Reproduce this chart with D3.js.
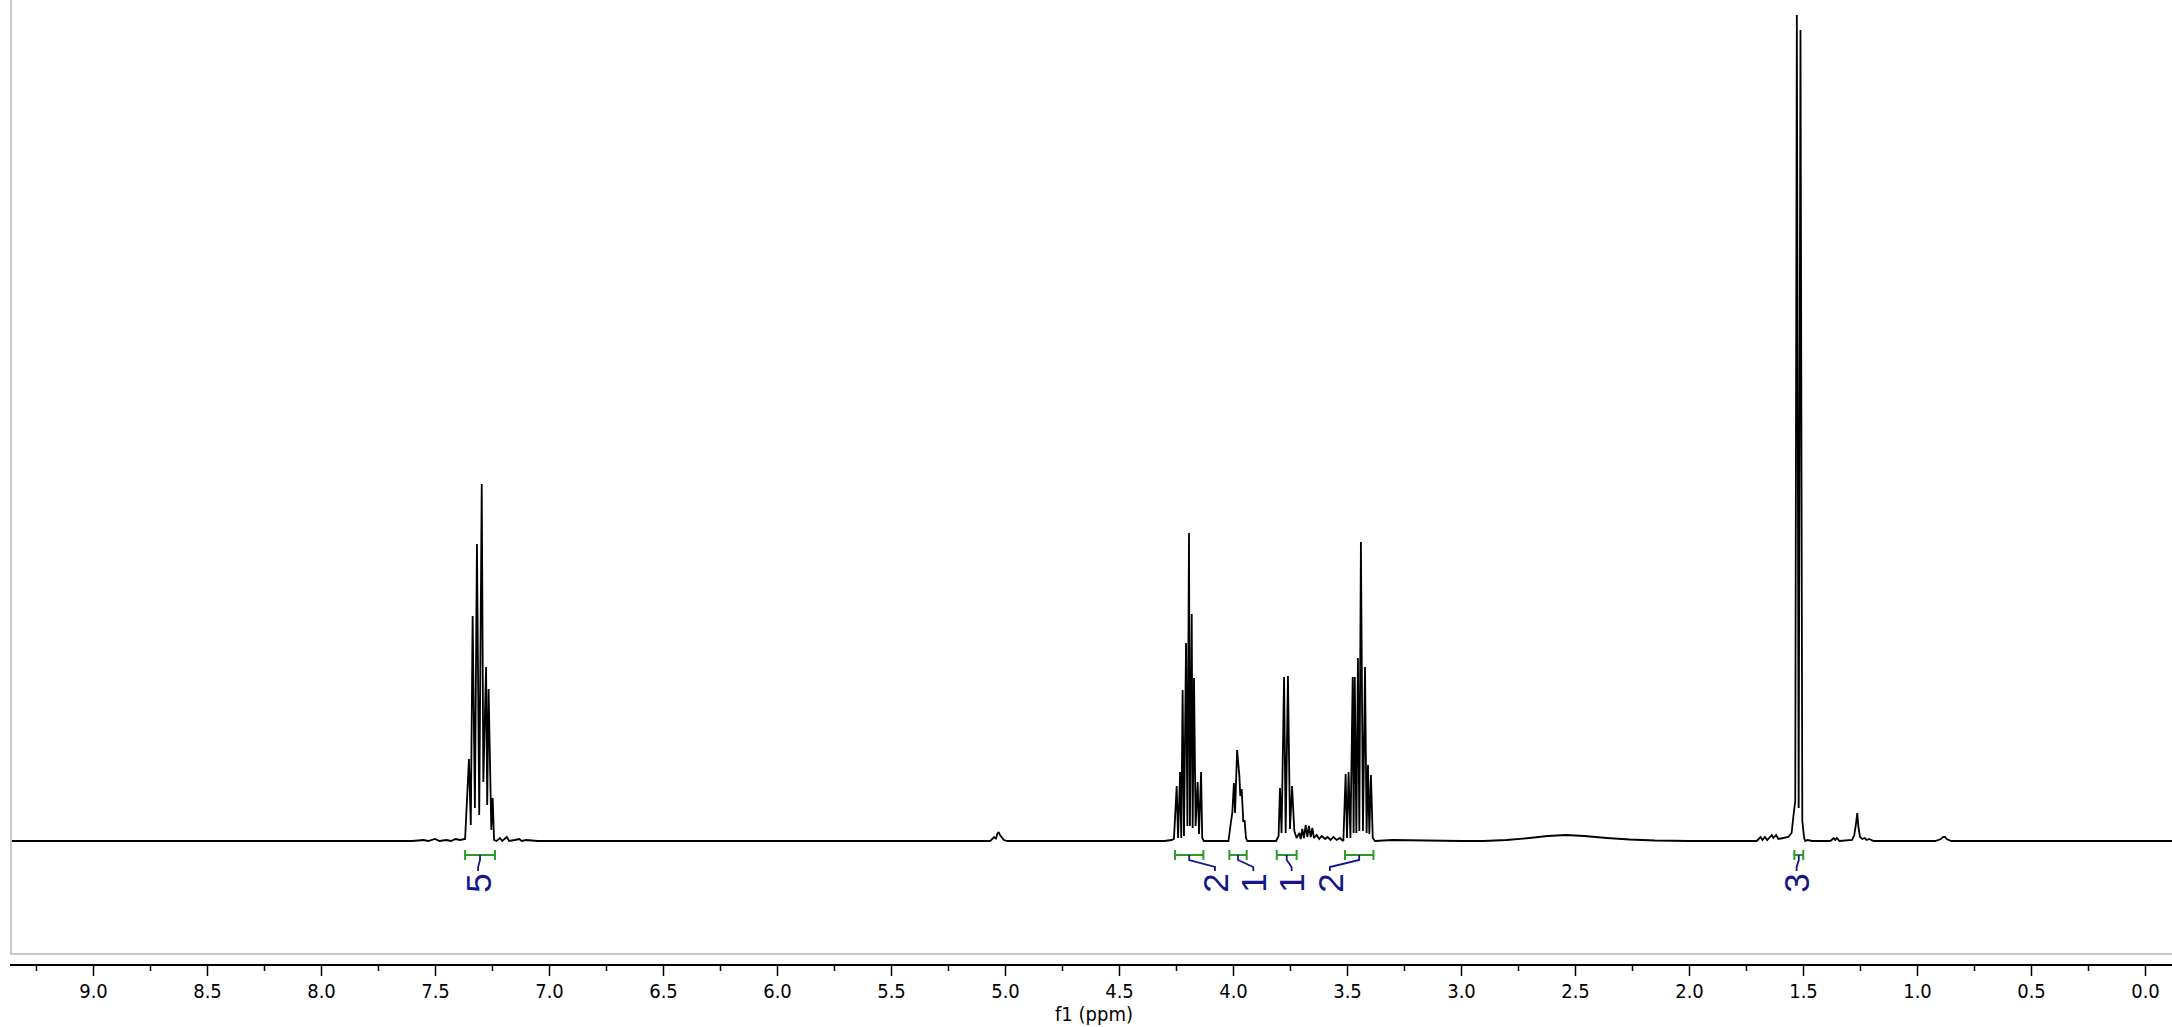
<!DOCTYPE html>
<html>
<head>
<meta charset="utf-8">
<script src="https://cdn.jsdelivr.net/npm/d3@7"></script>
<style>
  html, body { margin: 0; padding: 0; background: #fff; }
  svg { display: block; }
</style>
</head>
<body>
<svg id="chart" width="2172" height="1027"></svg>
<script>
// ---------------- DATA ----------------
// Spectrum vertices: [chemical shift (ppm), intensity (a.u.)]
const baselineLeft = [[9.40,0],[7.60,0],[7.55,1],[7.53,0],[7.50,2],[7.48,0],[7.45,1],[7.43,0],[7.41,2],[7.39,1]];
const aromatic = [[7.368,2],[7.351,82],[7.343,16],[7.335,225],[7.325,33],[7.316,297],[7.306,26],[7.295,357],
  [7.288,59],[7.276,174],[7.271,36],[7.265,152],[7.253,11],[7.247,43],[7.241,1],[7.230,0],[7.215,3],[7.205,0],
  [7.185,4],[7.175,0],[7.150,1],[7.130,2],[7.120,0],[7.10,1],[7.05,0]];
const minor503 = [[5.10,0],[5.065,0],[5.048,4],[5.040,2],[5.034,7],[5.028,9],[5.022,6],[5.015,4],[5.005,1],[4.99,0],[4.30,0],[4.27,1]];
const m420 = [[4.259,2],[4.247,55],[4.241,3],[4.232,69],[4.227,3],[4.221,151],[4.215,5],[4.206,198],[4.200,15],
  [4.193,308],[4.189,15],[4.181,227],[4.177,13],[4.171,163],[4.164,15],[4.155,59],[4.149,7],[4.140,69],[4.135,3],[4.128,0],[4.05,0]];
const m397 = [[4.020,0],[4.009,19],[4.003,28],[3.996,58],[3.991,28],[3.982,91],[3.972,65],[3.968,45],[3.962,52],
  [3.955,20],[3.949,20],[3.943,3],[3.937,0],[3.85,0]];
const m377 = [[3.811,0],[3.800,5],[3.794,53],[3.787,8],[3.776,164],[3.769,8],[3.759,165],[3.750,12],[3.741,55],[3.731,10],
  [3.721,3],[3.709,8],[3.703,2],[3.696,12],[3.689,3],[3.681,16],[3.674,4],[3.667,15],[3.659,4],[3.652,13],[3.645,3],
  [3.633,6],[3.622,2],[3.611,5],[3.596,2],[3.585,4],[3.572,1],[3.560,4],[3.545,1],[3.531,3],[3.522,1]];
const m345 = [[3.516,0],[3.506,67],[3.500,3],[3.493,69],[3.485,3],[3.475,164],[3.471,8],[3.466,164],[3.459,8],
  [3.452,183],[3.446,10],[3.439,299],[3.430,10],[3.421,174],[3.414,8],[3.408,76],[3.402,7],[3.395,66],[3.387,3],[3.377,0]];
const broadHump = [[3.30,1],[3.00,0],[2.90,0],[2.80,1],[2.70,3],[2.62,5],[2.54,6],[2.46,5],[2.36,3],[2.26,1.5],[2.15,0.5],[2.00,0],[1.80,0]];
const m152 = [[1.703,0],[1.686,4],[1.678,1],[1.667,4],[1.657,1],[1.637,6],[1.630,3],[1.618,6],[1.608,2],[1.586,3],
  [1.564,4],[1.550,8],[1.542,25],[1.534,40],[1.527,826],[1.519,33],[1.511,811],[1.503,20],[1.495,3],[1.490,0],[1.48,1],[1.46,0]];
const baselineRight = [[1.38,0],[1.365,3],[1.358,1],[1.352,3],[1.34,0],[1.285,1],[1.275,6],[1.267,18],[1.262,28],[1.257,14],
  [1.250,4],[1.240,2],[1.230,3],[1.220,1],[1.210,2],[1.19,0],[0.92,0],[0.895,2],[0.885,4],[0.877,4],[0.870,2],[0.85,0],[-0.15,0]];

// Integrals
const integralFrom  = [7.368, 4.254, 4.016, 3.808, 3.509, 1.538];
const integralTo    = [7.237, 4.130, 3.940, 3.721, 3.384, 1.499];
const integralValue = ["5", "2", "1", "1", "2", "3"];
const integralLabelPpm = [7.311, 4.079, 3.911, 3.743, 3.575, 1.528];

// Axis ticks
const majorTicks = [9.0, 8.5, 8.0, 7.5, 7.0, 6.5, 6.0, 5.5, 5.0, 4.5, 4.0, 3.5, 3.0, 2.5, 2.0, 1.5, 1.0, 0.5, 0.0];
const minorTicks = [9.25, 8.75, 8.25, 7.75, 7.25, 6.75, 6.25, 5.75, 5.25, 4.75, 4.25, 3.75, 3.25, 2.75, 2.25, 1.75, 1.25, 0.75, 0.25];
const axisTitle = "f1 (ppm)";

// ---------------- DRAWING ----------------
const W = 2172, H = 1027;
const svg = d3.select("#chart");
const x = d3.scaleLinear().domain([9, 0]).range([93, 2145]);
const y = d3.scaleLinear().domain([0, 826]).range([841, 15]);

const frameLeft = 11, frameBottom = 954, axisY = 965;

// frame
svg.append("line").attr("x1", frameLeft).attr("x2", frameLeft).attr("y1", 0).attr("y2", frameBottom)
  .attr("stroke", "#c8c8c8").attr("stroke-width", 2);
svg.append("line").attr("x1", frameLeft - 1).attr("x2", W).attr("y1", frameBottom).attr("y2", frameBottom)
  .attr("stroke", "#c8c8c8").attr("stroke-width", 2);

// clip
svg.append("clipPath").attr("id", "plotclip").append("rect")
  .attr("x", frameLeft + 1).attr("y", 0).attr("width", W - frameLeft).attr("height", frameBottom - 1);

const spectrum = [].concat(baselineLeft, aromatic, minor503, m420, m397, m377, m345, broadHump, m152, baselineRight);
const line = d3.line().x(d => x(d[0])).y(d => y(d[1]));
svg.append("path").datum(spectrum).attr("d", line)
  .attr("clip-path", "url(#plotclip)")
  .attr("fill", "none").attr("stroke", "#000").attr("stroke-width", 1.8).attr("stroke-linejoin", "miter").attr("stroke-miterlimit", 2);

// integrals
const green = "#2b9a2b", blue = "#15158c";
const yB = 855, capH = 5;
const ig = svg.append("g");
integralFrom.forEach((f, i) => {
  const x1 = x(f), x2 = x(integralTo[i]);
  ig.append("line").attr("x1", x1).attr("x2", x2).attr("y1", yB).attr("y2", yB).attr("stroke", green).attr("stroke-width", 2);
  ig.append("line").attr("x1", x1).attr("x2", x1).attr("y1", yB - capH).attr("y2", yB + capH).attr("stroke", green).attr("stroke-width", 2);
  ig.append("line").attr("x1", x2).attr("x2", x2).attr("y1", yB - capH).attr("y2", yB + capH).attr("stroke", green).attr("stroke-width", 2);
  const xc = x((f + integralTo[i]) / 2);
  const xl = x(integralLabelPpm[i]);
  ig.append("path")
    .attr("d", `M${xc},${yB} L${xc},${yB + 5} L${xl},${yB + 12} L${xl},${yB + 16}`)
    .attr("fill", "none").attr("stroke", blue).attr("stroke-width", 1.8);
  ig.append("text")
    .attr("transform", `translate(${xl},${yB + 28}) rotate(-90)`)
    .attr("text-anchor", "middle").attr("dy", "0.36em")
    .attr("font-family", "'Liberation Sans', Arial, sans-serif").attr("font-size", 35)
    .attr("fill", blue).text(integralValue[i]);
});

// axis line
svg.append("line").attr("x1", frameLeft - 1).attr("x2", W).attr("y1", axisY).attr("y2", axisY)
  .attr("stroke", "#000").attr("stroke-width", 2);

const fontFam = "'Liberation Sans Narrow', 'DejaVu Sans Condensed', 'Arial Narrow', sans-serif";
const majorAxis = d3.axisBottom(x).tickValues(majorTicks).tickFormat(d3.format(".1f")).tickSize(11).tickPadding(8);
const gMajor = svg.append("g").attr("transform", `translate(0,${axisY})`).call(majorAxis);
gMajor.select(".domain").remove();
gMajor.selectAll(".tick line").attr("stroke", "#000").attr("stroke-width", 1.5);
gMajor.selectAll(".tick text").attr("font-family", fontFam).attr("font-size", 20).attr("fill", "#000");

const minorAxis = d3.axisBottom(x).tickValues(minorTicks).tickFormat("").tickSize(6);
const gMinor = svg.append("g").attr("transform", `translate(0,${axisY})`).call(minorAxis);
gMinor.select(".domain").remove();
gMinor.selectAll(".tick line").attr("stroke", "#000").attr("stroke-width", 1.5);

svg.append("text").attr("x", 1094).attr("y", 1021).attr("text-anchor", "middle")
  .attr("font-family", fontFam).attr("font-size", 20).attr("fill", "#000").text(axisTitle);
</script>
</body>
</html>
